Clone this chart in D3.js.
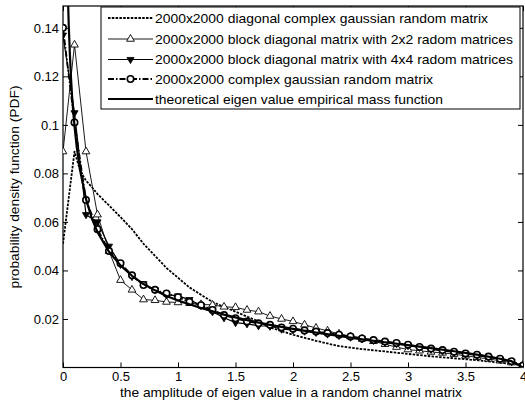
<!DOCTYPE html>
<html><head><meta charset="utf-8">
<script src="https://cdn.jsdelivr.net/npm/d3@7/dist/d3.min.js"></script>
<style>body{margin:0;background:#fff}svg{display:block}text{font-family:"Liberation Sans",Arial,sans-serif;fill:#000}</style>
</head><body>
<svg id="c" width="525" height="408"></svg>
<script>
// ---- data ----
const xTicks = [0, 0.5, 1, 1.5, 2, 2.5, 3, 3.5, 4];
const xTickLabels = ["0", "0.5", "1", "1.5", "2", "2.5", "3", "3.5", "4"];
const yTicks = [0.02, 0.04, 0.06, 0.08, 0.1, 0.12, 0.14];
const yTickLabels = ["0.02", "0.04", "0.06", "0.08", "0.1", "0.12", "0.14"];

const seriesNames = [
  "2000x2000 diagonal complex gaussian random matrix",
  "2000x2000 block diagonal matrix with 2x2 radom matrices",
  "2000x2000 block diagonal matrix with 4x4 radom matrices",
  "2000x2000 complex gaussian random matrix",
  "theoretical eigen value empirical mass function"
];

// diagonal (dotted)
const diagX = [0, 0.1, 0.15, 0.2, 0.25, 0.3, 0.4, 0.5, 0.6, 0.7, 0.8, 0.9, 1.0, 1.1, 1.2, 1.3, 1.4, 1.5, 1.6, 1.7, 1.8, 1.9, 2.0, 2.2, 2.4, 2.6, 2.8, 3.0, 3.2, 3.4, 3.6, 3.8, 4.0];
const diagY = [0.051, 0.089, 0.081, 0.077, 0.0744, 0.0715, 0.0668, 0.062, 0.057, 0.051, 0.046, 0.041, 0.037, 0.033, 0.030, 0.027, 0.025, 0.023, 0.021, 0.019, 0.0165, 0.015, 0.0135, 0.011, 0.0088, 0.0076, 0.0066, 0.0056, 0.0046, 0.0038, 0.003, 0.002, 0.001];

// sample grid for marker series
const gridX = [0,0.1,0.2,0.3,0.4,0.5,0.6,0.7,0.8,0.9,1.0,1.1,1.2,1.3,1.4,1.5,1.6,1.7,1.8,1.9,2.0,2.1,2.2,2.3,2.4,2.5,2.6,2.7,2.8,2.9,3.0,3.1,3.2,3.3,3.4,3.5,3.6,3.7,3.8,3.9,4.0];

// 2x2 blocks (open up-triangles)
const block2Y = [0.089,0.133,0.089,0.063,0.048,0.036,0.032,0.028,0.0277,0.027,0.0268,0.0265,0.026,0.0258,0.025,0.0248,0.0237,0.023,0.0212,0.020,0.019,0.0176,0.0163,0.0151,0.0139,0.0128,0.0118,0.0108,0.0096,0.0084,0.0074,0.0069,0.0064,0.006,0.0055,0.0048,0.0042,0.0035,0.0028,0.002,0.001];

// 4x4 blocks (filled down-triangles)
const block4Y = [0.137,0.105,0.063,0.060,0.050,0.0425,0.0375,0.0345,0.032,0.030,0.0295,0.028,0.0255,0.023,0.0205,0.0185,0.018,0.0172,0.017,0.0158,0.0155,0.015,0.0145,0.0138,0.0132,0.0125,0.0118,0.0112,0.0104,0.0098,0.009,0.0083,0.0075,0.0068,0.0062,0.0056,0.005,0.0042,0.0034,0.0024,0.0006];

// full complex gaussian (open circles, dash-dot)
const fullY = [0.140,0.101,0.069,0.057,0.048,0.043,0.038,0.034,0.032,0.0305,0.029,0.027,0.0257,0.0237,0.0216,0.0203,0.019,0.0182,0.0176,0.0165,0.016,0.0153,0.0148,0.0142,0.0135,0.0128,0.012,0.0113,0.0107,0.0101,0.0094,0.0085,0.0078,0.0072,0.0065,0.0058,0.0053,0.0045,0.0036,0.0026,0.0008];

// theoretical (thick solid)
const theoX = [0.02,0.03,0.04,0.05,0.06,0.07,0.08,0.1,0.12,0.15,0.2,0.25,0.3,0.4,0.5,0.6,0.7,0.8,0.9,1.0,1.2,1.4,1.6,1.8,2.0,2.2,2.4,2.6,2.8,3.0,3.2,3.4,3.6,3.8,3.9,4.0];
const theoY = [0.22,0.183,0.158,0.141,0.129,0.119,0.111,0.0994,0.0906,0.081,0.0694,0.0615,0.0558,0.0477,0.0421,0.0378,0.0344,0.0318,0.0295,0.0276,0.0245,0.0218,0.0195,0.0176,0.0159,0.0144,0.013,0.0116,0.0104,0.0092,0.008,0.0067,0.0053,0.0036,0.0026,0];

// ---- layout ----
const L = 63, R = 523, T = 6, B = 367.5;
const svg = d3.select("#c");
const x = d3.scaleLinear().domain([0, 4]).range([L, R]);
const y = d3.scaleLinear().domain([0, 0.149]).range([B, T]);

svg.append("defs").append("clipPath").attr("id","clip")
  .append("rect").attr("x", L).attr("y", T).attr("width", R - L).attr("height", B - T);

// axes (inward ticks)
const fs = "13px";
const gx = svg.append("g").attr("transform", `translate(0,${B})`)
  .call(d3.axisBottom(x).tickValues(xTicks).tickFormat((d,i)=>xTickLabels[i]).tickSizeInner(-5).tickSizeOuter(0).tickPadding(4));
const gxt = svg.append("g").attr("transform", `translate(0,${T})`)
  .call(d3.axisTop(x).tickValues(xTicks).tickFormat("").tickSizeInner(-5).tickSizeOuter(0));
const gy = svg.append("g").attr("transform", `translate(${L},0)`)
  .call(d3.axisLeft(y).tickValues(yTicks).tickFormat((d,i)=>yTickLabels[i]).tickSizeInner(-5).tickSizeOuter(0).tickPadding(4));
const gyr = svg.append("g").attr("transform", `translate(${R},0)`)
  .call(d3.axisRight(y).tickValues(yTicks).tickFormat("").tickSizeInner(-5).tickSizeOuter(0));
[gx,gxt,gy,gyr].forEach(g=>{
  g.select(".domain").remove();
  g.selectAll("line").attr("stroke","#000").attr("stroke-width",1);
  g.selectAll("text").style("font-size", fs).attr("fill","#000")
    .style("font-family", '"Liberation Sans",Arial,sans-serif');
});

// frame
svg.append("rect").attr("x", L).attr("y", T).attr("width", R - L).attr("height", B - T)
  .attr("fill","none").attr("stroke","#000").attr("stroke-width",1.2);

const plot = svg.append("g").attr("clip-path","url(#clip)");
const line = d3.line().x(d=>x(d[0])).y(d=>y(d[1]));

const styles = [
  {dash:"2.5,1.3", w:1.8, marker:null},
  {dash:null, w:0.9, marker:"up"},
  {dash:null, w:1.2, marker:"down"},
  {dash:"6,2,1.5,2", w:1.8, marker:"circle"},
  {dash:null, w:2.2, marker:null}
];
const data = [
  d3.zip(diagX, diagY),
  d3.zip(gridX, block2Y),
  d3.zip(gridX, block4Y),
  d3.zip(gridX, fullY),
  d3.zip(theoX, theoY)
];

function drawMarker(g, kind, cx, cy) {
  if (kind === "up") {
    g.append("path").attr("d", d3.symbol(d3.symbolTriangle, 26)())
      .attr("transform", `translate(${cx},${cy})`)
      .attr("fill","#fff").attr("stroke","#000").attr("stroke-width",0.9);
  } else if (kind === "down") {
    g.append("path").attr("d", d3.symbol(d3.symbolTriangle, 22)())
      .attr("transform", `translate(${cx},${cy}) rotate(180)`)
      .attr("fill","#000").attr("stroke","#000").attr("stroke-width",0.8);
  } else if (kind === "circle") {
    g.append("circle").attr("cx",cx).attr("cy",cy).attr("r",3.2)
      .attr("fill","#fff").attr("stroke","#000").attr("stroke-width",1.6);
  }
}

[0,1,2,3,4].forEach(i=>{
  const s = styles[i];
  const p = plot.append("path").datum(data[i]).attr("d", line)
    .attr("fill","none").attr("stroke","#000").attr("stroke-width", s.w)
    .attr("stroke-linejoin","round");
  if (s.dash) p.attr("stroke-dasharray", s.dash);
  if (s.marker) {
    const mg = plot.append("g");
    data[i].forEach(d=>drawMarker(mg, s.marker, x(d[0]), y(d[1])));
  }
});

// legend
const lg = svg.append("g");
lg.append("rect").attr("x",101).attr("y",7).attr("width",419).attr("height",102)
  .attr("fill","#fff").attr("stroke","#000").attr("stroke-width",1);
const rowY = [18, 39, 59.5, 79, 99];
const textW = [333, 358, 358, 278, 288];
seriesNames.forEach((name,i)=>{
  const s = styles[i];
  const ly = rowY[i];
  const l = lg.append("line").attr("x1",108).attr("x2",153).attr("y1",ly).attr("y2",ly)
    .attr("stroke","#000").attr("stroke-width", s.w);
  if (s.dash) l.attr("stroke-dasharray", s.dash);
  if (s.marker) drawMarker(lg, s.marker, 130.5, ly);
  lg.append("text").attr("x",155).attr("y",ly+4.5).style("font-size",fs)
    .attr("textLength", textW[i]).attr("lengthAdjust","spacingAndGlyphs").text(name);
});

// axis labels
svg.append("text").attr("x", 291).attr("y", 397).attr("text-anchor","middle")
  .style("font-size",fs).attr("textLength",342).attr("lengthAdjust","spacingAndGlyphs")
  .text("the amplitude of eigen value in a random channel matrix");
svg.append("text").attr("transform","translate(19,187) rotate(-90)").attr("text-anchor","middle")
  .style("font-size",fs).attr("textLength",203).attr("lengthAdjust","spacingAndGlyphs")
  .text("probability density function (PDF)");
</script>
</body></html>
